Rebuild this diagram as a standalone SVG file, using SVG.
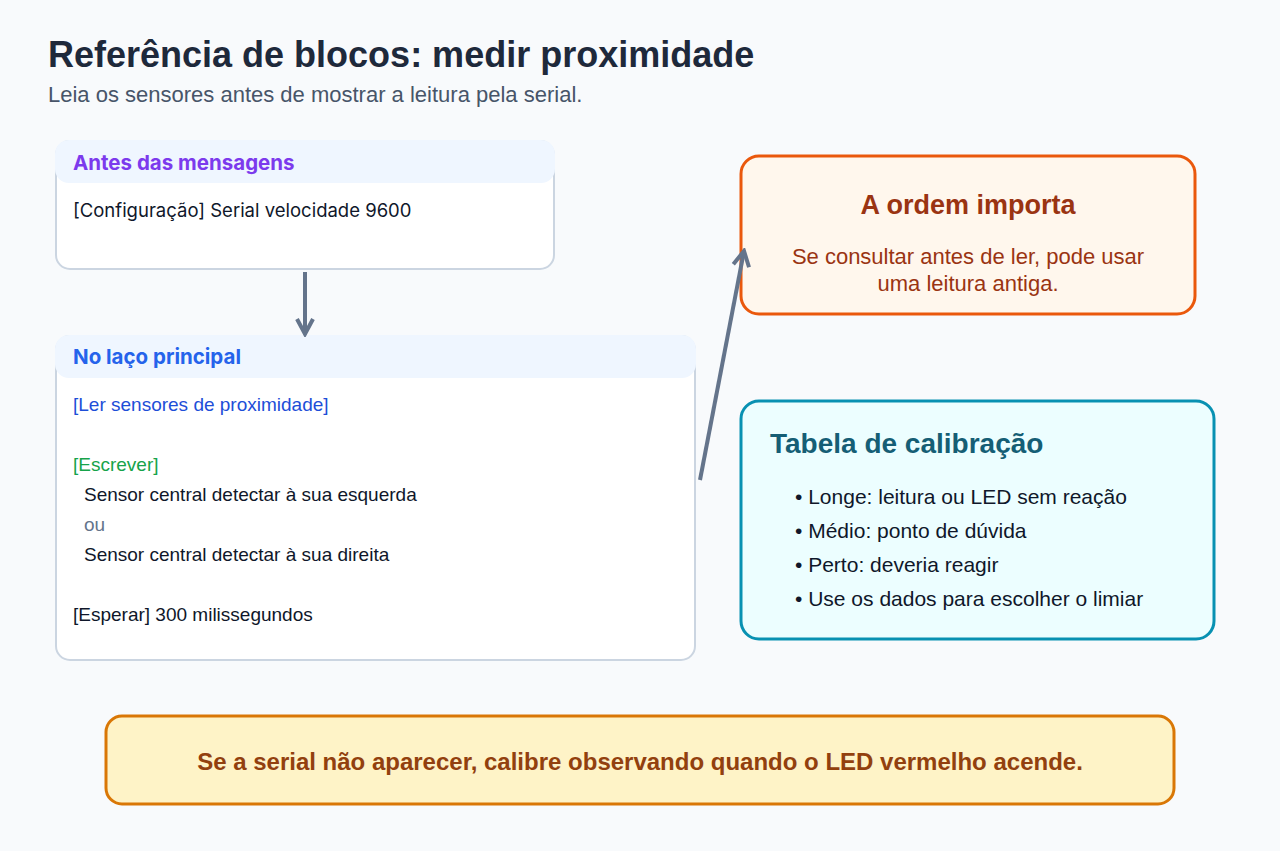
<svg xmlns="http://www.w3.org/2000/svg" width="1280" height="851" viewBox="0 0 1280 851">
<defs>
<style>
text{font-family:"Liberation Sans",Arial,sans-serif}
.card{fill:#ffffff;stroke:#cbd5e1;stroke-width:2}
.hdr{fill:#eff6ff}
.htxt{font-family:Inter,"Liberation Sans",sans-serif;font-size:20.5px;font-weight:700}
.body1{font-family:Inter,"Liberation Sans",sans-serif;font-size:18.5px;fill:#0f172a}
.body{font-size:19px;fill:#0f172a}
.conn{stroke:#64748b;stroke-width:4;fill:none}
.bullet{font-size:21px;fill:#0f172a}
</style>
<marker id="arr" viewBox="0 0 22 22" refX="19" refY="11" markerWidth="22" markerHeight="22" orient="auto" markerUnits="userSpaceOnUse">
<path d="M4,3 L19,11 L4,19" fill="none" stroke="#64748b" stroke-width="4"/>
</marker>
</defs>
<rect x="0" y="0" width="1280" height="851" fill="#f8fafc"/>
<g id="title">
<text x="48" y="67" font-size="36" font-weight="700" fill="#1e293b">Referência de blocos: medir proximidade</text>
<text x="48" y="102" font-size="22" fill="#475569">Leia os sensores antes de mostrar a leitura pela serial.</text>
</g>
<g id="setup">
<rect class="card" x="56" y="141" width="498" height="128" rx="14"/>
<rect class="hdr" x="55" y="140" width="500" height="43" rx="14"/>
<text class="htxt" x="73" y="170" fill="#7c3aed">Antes das mensagens</text>
<text class="body1" x="73" y="217">[Configuração] Serial velocidade 9600</text>
</g>
<g id="loop">
<rect class="card" x="56" y="336" width="639" height="324" rx="14"/>
<rect class="hdr" x="55" y="335" width="641" height="43" rx="14"/>
<text class="htxt" x="73" y="364" fill="#2563eb">No laço principal</text>
<text class="body" x="73" y="411" style="fill:#1d4ed8">[Ler sensores de proximidade]</text>
<text class="body" x="73" y="471" style="fill:#16a34a">[Escrever]</text>
<text class="body" x="84" y="501">Sensor central detectar à sua esquerda</text>
<text class="body" x="84" y="531" style="fill:#64748b">ou</text>
<text class="body" x="84" y="561">Sensor central detectar à sua direita</text>
<text class="body" x="73" y="621">[Esperar] 300 milissegundos</text>
</g>
<g id="order">
<rect x="741" y="156" width="454" height="158" rx="18" fill="#fff7ed" stroke="#ea580c" stroke-width="3"/>
<text x="968" y="214" text-anchor="middle" font-size="27" font-weight="700" fill="#9a3412">A ordem importa</text>
<text x="968" y="264" text-anchor="middle" font-size="22" fill="#9a3412">Se consultar antes de ler, pode usar</text>
<text x="968" y="291" text-anchor="middle" font-size="22" fill="#9a3412">uma leitura antiga.</text>
</g>
<g id="calibration">
<rect x="741" y="401" width="473" height="238" rx="18" fill="#ecfeff" stroke="#0891b2" stroke-width="3"/>
<text x="770" y="453" font-size="28" font-weight="700" fill="#155e75">Tabela de calibração</text>
<text class="bullet" x="795" y="504">• Longe: leitura ou LED sem reação</text>
<text class="bullet" x="795" y="538">• Médio: ponto de dúvida</text>
<text class="bullet" x="795" y="572">• Perto: deveria reagir</text>
<text class="bullet" x="795" y="606">• Use os dados para escolher o limiar</text>
</g>
<g id="note">
<rect x="106" y="716" width="1068" height="88" rx="16" fill="#fef3c7" stroke="#d97706" stroke-width="3"/>
<text x="640" y="770" text-anchor="middle" font-size="24" font-weight="700" fill="#92400e">Se a serial não aparecer, calibre observando quando o LED vermelho acende.</text>
</g>
<g id="connectors">
<line class="conn" x1="305" y1="272" x2="305" y2="334" marker-end="url(#arr)"/>
<line class="conn" x1="700" y1="480" x2="744" y2="251" marker-end="url(#arr)"/>
</g>
</svg>
